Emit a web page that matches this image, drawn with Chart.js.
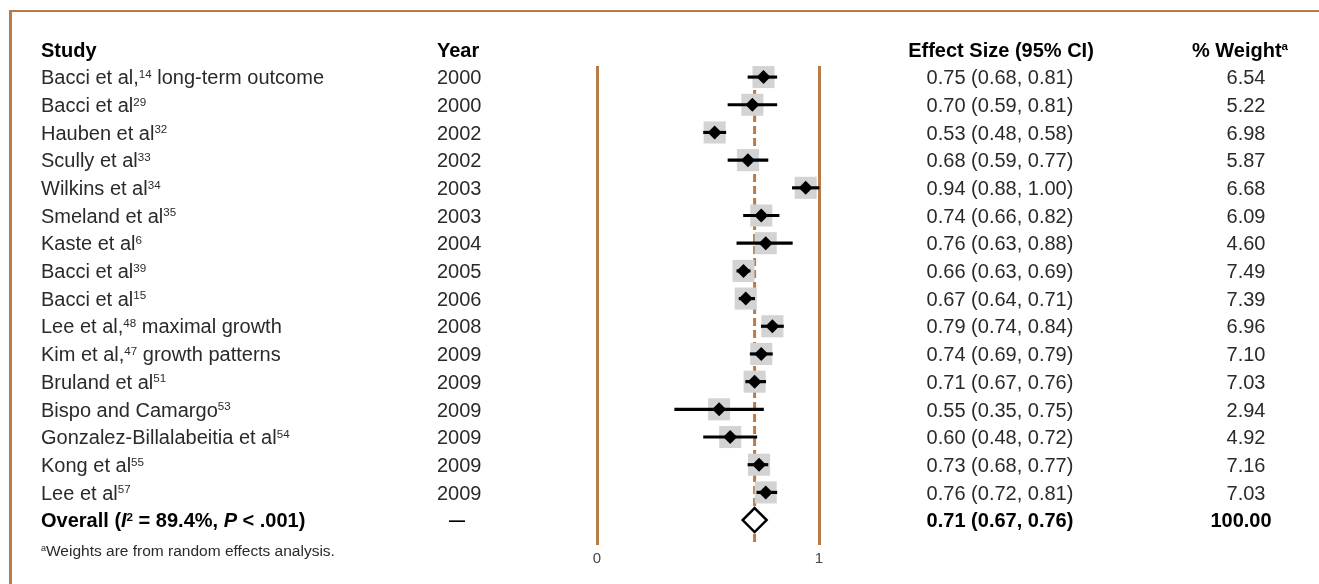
<!DOCTYPE html>
<html>
<head>
<meta charset="utf-8">
<script src="https://cdn.jsdelivr.net/npm/chart.js@4.4.0/dist/chart.umd.min.js"></script>
<style>
	body { margin: 0; background: #fff; }
	#wrap { position: relative; width: 1319px; height: 584px; }
	#frame {
		position: absolute; left: 9px; top: 10px; right: 0; bottom: 0;
		border-top: 2px solid #b77b47; border-left: 3px solid #b77b47;
		pointer-events: none;
	}
</style>
</head>
<body>
<div id="wrap">
	<canvas id="forest" width="1319" height="584"></canvas>
	<div id="frame"></div>
</div>
<script>
// ^..^ = superscript, _.._ = italic
const studies = [
	'Bacci et al,^14^ long-term outcome',
	'Bacci et al^29^',
	'Hauben et al^32^',
	'Scully et al^33^',
	'Wilkins et al^34^',
	'Smeland et al^35^',
	'Kaste et al^6^',
	'Bacci et al^39^',
	'Bacci et al^15^',
	'Lee et al,^48^ maximal growth',
	'Kim et al,^47^ growth patterns',
	'Bruland et al^51^',
	'Bispo and Camargo^53^',
	'Gonzalez-Billalabeitia et al^54^',
	'Kong et al^55^',
	'Lee et al^57^'
]
const years = [ 2000, 2000, 2002, 2002, 2003, 2003, 2004, 2005, 2006, 2008, 2009, 2009, 2009, 2009, 2009, 2009 ]
const effect = [ 0.75, 0.70, 0.53, 0.68, 0.94, 0.74, 0.76, 0.66, 0.67, 0.79, 0.74, 0.71, 0.55, 0.60, 0.73, 0.76 ]
const lower = [ 0.68, 0.59, 0.48, 0.59, 0.88, 0.66, 0.63, 0.63, 0.64, 0.74, 0.69, 0.67, 0.35, 0.48, 0.68, 0.72 ]
const upper = [ 0.81, 0.81, 0.58, 0.77, 1.00, 0.82, 0.88, 0.69, 0.71, 0.84, 0.79, 0.76, 0.75, 0.72, 0.77, 0.81 ]
const weights = [ 6.54, 5.22, 6.98, 5.87, 6.68, 6.09, 4.60, 7.49, 7.39, 6.96, 7.10, 7.03, 2.94, 4.92, 7.16, 7.03 ]
const overallLabel = 'Overall (_I_^2^ = 89.4%, _P_ < .001)'
const overallEffect = 0.71
const overallLower = 0.67
const overallUpper = 0.76
const overallWeight = 100.00
const xTicks = [ 0, 1 ]
const footnote = '^a^Weights are from random effects analysis.'

const FONT = '"Liberation Sans", Arial, sans-serif'
const BROWN = '#b77b47'
const SIZE = 20
const overallRow = studies.length + 1

const fmt = v => v.toFixed( 2 )
const ciText = (e, l, u) => `${fmt( e )} (${fmt( l )}, ${fmt( u )})`

const drawRich = (ctx, src, x, y, size, weight, color, align) => {
	const segs = []
	let sup = false, it = false, buf = ''
	for (const ch of src) {
		if (ch === '^' || ch === '_') {
			if (buf) segs.push( { t: buf, sup, it } )
			buf = ''
			if (ch === '^') sup = !sup
			else it = !it
		} else buf += ch
	}
	if (buf) segs.push( { t: buf, sup, it } )
	const fontOf = s => `${s.it ? 'italic ' : ''}${weight} ${s.sup ? size * 0.58 : size}px ${FONT}`
	let w = 0
	segs.forEach( s => {
		ctx.font = fontOf( s )
		s.w = ctx.measureText( s.t ).width
		w += s.w
	} )
	let cx = align === 'center' ? x - w / 2 : x
	ctx.fillStyle = color
	ctx.textAlign = 'left'
	ctx.textBaseline = 'alphabetic'
	const base = y + size * 0.36
	segs.forEach( s => {
		ctx.font = fontOf( s )
		ctx.fillText( s.t, cx, s.sup ? base - size * 0.32 : base )
		cx += s.w
	} )
}

const tablePlugin = {
	id: 'forestTable',
	afterDraw(chart) {
		const ctx = chart.ctx
		const ys = chart.scales.y
		ctx.save()
		const head = ys.getPixelForValue( 0 )
		drawRich( ctx, 'Study', 41, head, SIZE, 'bold', '#000', 'left' )
		drawRich( ctx, 'Year', 437, head, SIZE, 'bold', '#000', 'left' )
		drawRich( ctx, 'Effect Size (95% CI)', 1001, head, SIZE, 'bold', '#000', 'center' )
		drawRich( ctx, '% Weight^a^', 1240, head, SIZE, 'bold', '#000', 'center' )
		studies.forEach( (name, i) => {
			const y = ys.getPixelForValue( i + 1 )
			drawRich( ctx, name, 41, y, SIZE, 'normal', '#2a2a2a', 'left' )
			drawRich( ctx, String( years[i] ), 437, y, SIZE, 'normal', '#2a2a2a', 'left' )
			drawRich( ctx, ciText( effect[i], lower[i], upper[i] ), 1000, y, SIZE, 'normal', '#2a2a2a', 'center' )
			drawRich( ctx, fmt( weights[i] ), 1246, y, SIZE, 'normal', '#2a2a2a', 'center' )
		} )
		const oy = ys.getPixelForValue( overallRow )
		drawRich( ctx, overallLabel, 41, oy, SIZE, 'bold', '#000', 'left' )
		drawRich( ctx, '\u2014', 457, oy, 16, 'bold', '#000', 'center' )
		drawRich( ctx, ciText( overallEffect, overallLower, overallUpper ), 1000, oy, SIZE, 'bold', '#000', 'center' )
		drawRich( ctx, fmt( overallWeight ), 1241, oy, SIZE, 'bold', '#000', 'center' )
		drawRich( ctx, footnote, 41, ys.getPixelForValue( overallRow + 1.08 ), 15.5, 'normal', '#2a2a2a', 'left' )
		ctx.restore()
	}
}

const rows = studies.map( (s, i) => i + 1 )

new Chart( document.getElementById( 'forest' ), {
	type: 'scatter',
	data: {
		datasets: [
			{
				type: 'line',
				data: [ { x: overallEffect, y: 0.6 }, { x: overallEffect, y: 17.9 } ],
				borderColor: BROWN,
				borderWidth: 3,
				borderDash: [ 8, 4 ],
				pointRadius: 0,
				clip: false,
				order: 5
			},
			{
				data: rows.map( (r, i) => ( { x: effect[i], y: r } ) ),
				pointStyle: 'rect',
				pointRadius: 15.6,
				backgroundColor: '#d3d3d3',
				borderWidth: 0,
				clip: false,
				order: 4
			},
			{
				type: 'bar',
				indexAxis: 'y',
				data: rows.map( (r, i) => ( { x: [ lower[i], upper[i] ], y: r } ) ),
				backgroundColor: '#000',
				barThickness: 2.5,
				clip: false,
				order: 3
			},
			{
				data: rows.map( (r, i) => ( { x: effect[i], y: r } ) ),
				pointStyle: 'rectRot',
				pointRadius: 7,
				backgroundColor: '#000',
				borderWidth: 0,
				clip: false,
				order: 2
			},
			{
				data: [ { x: overallEffect, y: overallRow } ],
				pointStyle: 'rectRot',
				pointRadius: 12,
				backgroundColor: '#fff',
				borderColor: '#000',
				borderWidth: 2.5,
				clip: false,
				order: 1
			}
		]
	},
	options: {
		responsive: false,
		animation: false,
		events: [],
		layout: {
			padding: { left: 597, right: 500, top: 66, bottom: 19 }
		},
		scales: {
			x: {
				type: 'linear',
				min: 0,
				max: 1,
				offset: false,
				afterBuildTicks: axis => {
					axis.ticks = xTicks.map( v => ( { value: v } ) )
				},
				afterFit: axis => {
					axis.height = 20
				},
				grid: { color: BROWN, lineWidth: 3, drawTicks: false, offset: false },
				border: { display: false },
				ticks: { color: '#444', padding: 5, font: { family: FONT, size: 15 } }
			},
			y: {
				type: 'linear',
				reverse: true,
				offset: false,
				min: 0.6,
				max: 17.9,
				display: false
			}
		},
		plugins: {
			legend: { display: false },
			tooltip: { enabled: false }
		}
	},
	plugins: [ tablePlugin ]
} )
</script>
</body>
</html>
